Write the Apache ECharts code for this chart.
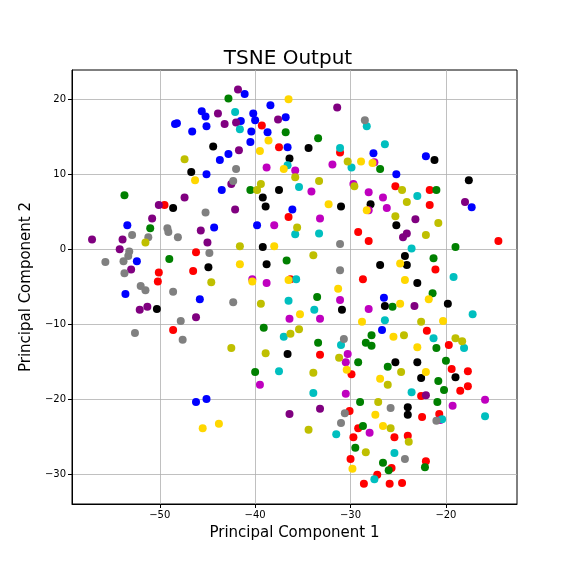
<!DOCTYPE html>
<html>
<head>
<meta charset="utf-8">
<script src="https://cdn.jsdelivr.net/npm/echarts@6/dist/echarts.min.js"></script>
<style>
  html, body { margin: 0; padding: 0; background: #fff; }
  #chart { width: 576px; height: 576px; }
</style>
</head>
<body>
<div id="chart"></div>
<script>
const xTicks = [-50, -40, -30, -20];
const yTicks = [-30, -20, -10, 0, 10, 20];

const redPts = [[-49.5,5.9],[-39.3,16.5],[-37.5,13.6],[-31.1,12.9],[-46.2,-0.4],[-50.1,-3.1],[-46.5,-2.9],[-50.2,-4.3],[-48.6,-10.8],[-36.5,4.3],[-29.2,2.3],[-36.3,-4.0],[-21.7,5.9],[-25.3,8.4],[-21.7,7.9],[-28.1,1.1],[-14.5,1.1],[-21.1,-2.7],[-28.7,-4.0],[-22.0,-10.9],[-19.7,-12.8],[-33.2,-14.1],[-29.9,-16.7],[-30.1,-21.6],[-29.2,-23.9],[-29.7,-25.1],[-30.0,-28.0],[-19.4,-16.0],[-17.7,-16.3],[-17.7,-18.3],[-18.5,-18.9],[-22.6,-19.6],[-22.5,-22.4],[-20.7,-22.0],[-25.4,-25.1],[-24.0,-24.9],[-22.1,-28.3],[-25.7,-29.2],[-27.2,-30.1],[-28.6,-31.3],[-25.9,-31.3],[-24.6,-31.2]];

const bluePts = [[-45.6,18.4],[-45.2,17.7],[-48.4,16.7],[-48.2,16.8],[-46.6,15.7],[-45.1,16.4],[-43.7,11.9],[-45.1,10.0],[-43.5,7.9],[-41.1,20.7],[-38.4,19.2],[-40.2,18.1],[-41.5,17.1],[-40.0,17.2],[-36.8,17.6],[-40.4,15.7],[-38.7,15.6],[-40.5,14.3],[-36.6,13.6],[-42.8,12.7],[-36.1,5.3],[-44.3,2.9],[-39.8,3.2],[-53.4,3.2],[-52.4,-1.6],[-53.6,-6.0],[-45.8,-6.7],[-27.6,12.8],[-25.2,10.0],[-22.1,12.4],[-17.3,5.6],[-26.5,-6.5],[-26.7,-10.8],[-46.2,-20.4],[-45.1,-20.0]];

const greenPts = [[-53.7,7.2],[-42.8,20.1],[-36.8,15.6],[-33.4,14.8],[-51.0,2.8],[-49.0,-1.3],[-40.5,7.9],[-36.7,-1.5],[-33.5,-6.4],[-39.1,-10.5],[-33.4,-12.5],[-26.9,10.7],[-21.0,7.9],[-19.0,0.3],[-21.3,-1.2],[-21.4,-5.9],[-25.6,-7.7],[-27.8,-11.5],[-28.4,-12.5],[-27.8,-12.9],[-21.0,-13.2],[-29.2,-15.1],[-40.0,-16.4],[-29.0,-20.4],[-29.5,-26.5],[-20.0,-14.9],[-26.1,-15.7],[-20.8,-17.6],[-20.2,-18.8],[-20.9,-20.4],[-28.7,-23.6],[-26.6,-28.5],[-26.0,-29.5],[-22.2,-29.1]];

const blackPts = [[-44.4,13.7],[-46.7,10.3],[-48.6,5.5],[-44.9,-2.4],[-50.3,-8.0],[-34.4,13.5],[-36.4,12.1],[-37.5,7.9],[-39.2,6.9],[-38.9,5.7],[-31.0,5.7],[-39.2,0.3],[-38.8,-2.0],[-30.9,-8.1],[-36.6,-14.0],[-27.9,6.0],[-21.2,11.9],[-17.6,9.2],[-25.2,3.2],[-24.3,-0.9],[-24.1,-2.1],[-26.9,-2.1],[-23.0,-4.5],[-26.4,-7.6],[-19.8,-7.3],[-25.3,-15.1],[-23.0,-15.1],[-22.6,-17.2],[-19.0,-17.1],[-24.0,-21.1],[-24.0,-22.1]];

const purplePts = [[-43.9,18.1],[-47.4,6.9],[-50.1,5.9],[-41.8,21.3],[-31.4,18.9],[-43.2,16.7],[-42.0,16.9],[-37.6,17.3],[-41.7,13.2],[-42.5,8.7],[-42.1,5.3],[-50.8,4.1],[-45.7,2.5],[-57.1,1.3],[-53.9,1.3],[-45.0,0.9],[-54.2,0.0],[-53.0,-2.7],[-52.1,-8.1],[-51.3,-7.7],[-46.2,-9.1],[-18.0,6.3],[-23.2,4.0],[-24.1,2.1],[-24.5,1.6],[-23.3,-7.6],[-36.4,-22.0],[-33.2,-21.3],[-22.1,-19.5]];

const magentaPts = [[-38.8,10.9],[-35.8,10.5],[-31.9,11.3],[-29.7,8.7],[-34.1,7.7],[-27.5,11.6],[-28.1,7.6],[-26.6,6.9],[-26.2,5.5],[-28.1,5.2],[-33.2,4.1],[-38.0,3.2],[-40.3,-4.0],[-38.8,-4.5],[-31.1,-6.8],[-36.4,-9.3],[-33.2,-9.3],[-28.1,-8.0],[-30.3,-14.0],[-30.5,-15.1],[-39.5,-18.1],[-30.5,-19.3],[-19.3,-20.9],[-15.9,-20.1],[-20.6,-22.8],[-28.0,-24.5]];

const cyanPts = [[-42.1,18.3],[-41.6,16.0],[-31.1,13.5],[-29.9,10.9],[-36.6,11.2],[-35.4,8.3],[-28.3,16.4],[-26.4,14.0],[-23.0,7.1],[-35.8,2.0],[-33.3,2.1],[-35.7,-4.0],[-36.5,-6.9],[-33.8,-8.1],[-37.0,-11.7],[-31.0,-12.8],[-23.6,0.1],[-19.2,-3.7],[-17.2,-8.7],[-26.4,-9.5],[-21.3,-11.9],[-18.1,-13.2],[-37.5,-16.3],[-33.9,-19.2],[-31.5,-24.7],[-25.4,-27.2],[-23.6,-19.1],[-15.9,-22.3],[-20.4,-22.7],[-27.5,-30.7]];

const grayPts = [[-45.2,4.9],[-28.5,17.2],[-52.9,1.9],[-49.2,2.8],[-49.1,2.3],[-48.1,1.6],[-51.2,1.6],[-53.2,-0.3],[-53.3,-0.9],[-55.7,-1.7],[-53.8,-1.6],[-44.8,-0.5],[-53.7,-3.2],[-52.0,-4.9],[-51.5,-5.5],[-48.6,-5.7],[-47.8,-9.6],[-52.6,-11.2],[-47.6,-12.1],[-42.0,10.7],[-42.3,9.1],[-31.1,0.7],[-31.1,-2.8],[-42.3,-7.1],[-30.7,-12.0],[-30.6,-21.9],[-31.0,-23.2],[-25.8,-21.2],[-21.0,-22.9],[-24.3,-28.0]];

const goldPts = [[-46.3,9.2],[-36.5,20.0],[-38.6,14.5],[-39.5,13.1],[-37.0,10.7],[-32.3,6.0],[-28.9,11.7],[-27.7,11.5],[-28.3,5.2],[-38.0,0.4],[-41.6,-2.0],[-40.3,-4.3],[-36.5,-4.1],[-31.3,-5.3],[-35.3,-8.7],[-24.3,-4.1],[-24.8,-1.9],[-21.8,-6.7],[-24.8,-7.3],[-28.8,-9.7],[-20.3,-9.6],[-25.5,-11.7],[-23.0,-13.1],[-30.4,-16.1],[-43.8,-23.3],[-45.5,-23.9],[-26.9,-17.3],[-22.1,-16.4],[-27.4,-22.1],[-26.6,-23.6],[-29.8,-29.3]];

const olivePts = [[-47.4,12.0],[-30.3,11.7],[-35.8,9.6],[-33.3,9.1],[-29.6,8.4],[-39.4,8.7],[-39.8,7.9],[-24.6,7.9],[-24.1,6.3],[-25.3,4.4],[-35.6,2.9],[-41.6,0.4],[-33.9,-0.8],[-44.6,-4.4],[-51.5,0.9],[-22.1,1.9],[-20.8,3.5],[-39.4,-7.3],[-35.4,-10.7],[-36.3,-11.3],[-42.5,-13.2],[-22.6,-9.7],[-24.4,-11.5],[-19.0,-11.9],[-18.3,-12.3],[-38.9,-13.9],[-31.2,-14.5],[-33.9,-16.5],[-34.4,-24.1],[-24.7,-16.4],[-26.1,-18.1],[-27.1,-20.4],[-25.8,-23.9],[-23.9,-25.7],[-28.4,-27.1]];

const groups = [
  { name: 'red', color: '#ff0000', data: redPts },
  { name: 'blue', color: '#0000ff', data: bluePts },
  { name: 'green', color: '#008000', data: greenPts },
  { name: 'black', color: '#000000', data: blackPts },
  { name: 'purple', color: '#800080', data: purplePts },
  { name: 'm', color: '#bf00bf', data: magentaPts },
  { name: 'c', color: '#00bfbf', data: cyanPts },
  { name: 'gray', color: '#808080', data: grayPts },
  { name: 'gold', color: '#ffd700', data: goldPts },
  { name: 'y', color: '#bfbf00', data: olivePts }
];

const chart = echarts.init(document.getElementById('chart'));
const font = 'DejaVu Sans';
// matplotlib prints a real minus sign
const minus = v => String(v).replace('-', '\u2212');

chart.setOption({
  animation: false,
  textStyle: { fontFamily: font },
  title: {
    text: 'TSNE Output',
    left: 'center',
    top: 44,
    textStyle: { fontSize: 20, fontWeight: 'normal', color: '#000', fontFamily: font }
  },
  grid: {
    left: 72, right: 59, top: 70, bottom: 72,
    show: true, borderColor: '#000', borderWidth: 1, backgroundColor: 'transparent'
  },
  xAxis: {
    type: 'value',
    min: -59.2,
    max: -12.55,
    name: 'Principal Component 1',
    nameLocation: 'middle',
    nameGap: 22,
    nameTextStyle: { fontSize: 15, color: '#000', fontFamily: font },
    axisLine: { show: true, onZero: false, lineStyle: { color: '#000' } },
    axisTick: { show: true, length: 4, customValues: xTicks, lineStyle: { color: '#000' } },
    axisLabel: { customValues: xTicks, formatter: minus, fontSize: 10, color: '#000', margin: 6, fontFamily: font },
    splitLine: { show: true, lineStyle: { color: '#b0b0b0', width: 0.8 } }
  },
  yAxis: {
    type: 'value',
    min: -34,
    max: 23.9,
    name: 'Principal Component 2',
    nameLocation: 'middle',
    nameGap: 32,
    nameTextStyle: { fontSize: 15, color: '#000', fontFamily: font },
    axisLine: { show: true, onZero: false, lineStyle: { color: '#000' } },
    axisTick: { show: true, length: 4, customValues: yTicks, lineStyle: { color: '#000' } },
    axisLabel: { customValues: yTicks, formatter: minus, fontSize: 10, color: '#000', margin: 6, fontFamily: font },
    splitLine: { show: true, lineStyle: { color: '#b0b0b0', width: 0.8 } }
  },
  series: groups.map(g => ({
    name: g.name,
    type: 'scatter',
    data: g.data,
    symbolSize: 8,
    itemStyle: { color: g.color, opacity: 1 }
  }))
});

window.addEventListener('resize', () => chart.resize());
</script>
</body>
</html>
